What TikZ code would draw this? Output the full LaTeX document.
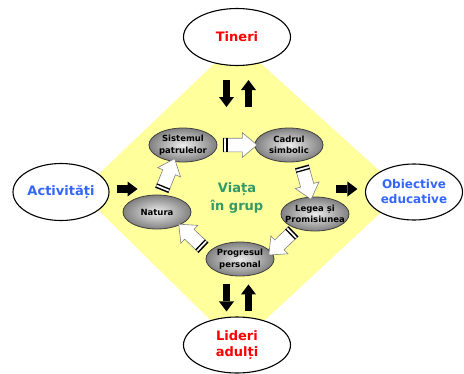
\documentclass[tikz,border=0pt]{standalone}
\usepackage{fontspec}
\setmainfont{DejaVu Sans}
\usepackage{tikz}
\usetikzlibrary{shapes.geometric,shapes.arrows,arrows.meta,calc}
\definecolor{pale}{HTML}{FFFF9C}
\definecolor{lifegreen}{HTML}{339966}
\definecolor{agentblue}{HTML}{3366FF}
\definecolor{stagelight}{HTML}{EDEDED}
\definecolor{stagedark}{HTML}{808080}

\begin{document}
\begin{tikzpicture}[x=1pt, y=-1pt,
  agent/.style={ellipse, draw, line width=1.1pt, fill=white, inner sep=0pt, minimum width=107pt, minimum height=57pt, align=center, font=\bfseries\fontsize{13}{16}\selectfont},
  stage/.style={ellipse, draw=black!75, line width=0.8pt, inner color=stagelight, outer color=stagedark, inner xsep=-7pt, inner ysep=0pt, minimum width=68pt, minimum height=34pt, align=center, font=\bfseries\fontsize{8.5}{11.5}\selectfont},
  hollow/.style={single arrow, draw=black!50, fill=white, line width=0.6pt, sloped, allow upside down, inner xsep=0pt, inner ysep=6.5pt, minimum height=34pt, single arrow head extend=5.5pt, single arrow tip angle=80},
  heavy/.style={line width=7.5pt, -{Triangle[length=10pt, width=15pt, line width=0pt]}}]
  \useasboundingbox (0,0) rectangle (464,373);
  \fill[pale] (237,42) -- (403,192) -- (237,346) -- (80,192) -- cycle;

  \node[agent, text=red] (tin) at (237,37) {Tineri};
  \node[agent, text=red, minimum height=56pt] (lid) at (237,345) {Lideri\\adulți};
  \node[agent, text=agentblue, minimum width=96pt] (act) at (61,192) {Activități};
  \node[agent, text=agentblue, minimum width=97pt, minimum height=56pt, font=\bfseries\fontsize{12}{15}\selectfont] (obj) at (414,192) {Obiective\\educative};

  \node[stage] (sis) at (183,145) {Sistemul\\patrulelor};
  \node[stage] (cad) at (289,145) {Cadrul\\simbolic};
  \node[stage] (leg) at (315,214) {Legea și\\Promisiunea};
  \node[stage] (prog) at (240,259) {Progresul\\personal};
  \node[stage] (nat) at (157,212) {Natura};
  \node[text=lifegreen, align=center, font=\bfseries\fontsize{13}{18}\selectfont] (life) at (237,198) {Viața\\în grup};

  \path (sis.east) -- node[hollow] (h1) {} (cad.west);
  \path (cad.-55) -- node[hollow] (h2) {} (leg.105);
  \path (leg.218) -- node[hollow] (h3) {} (prog.12);
  \path (prog.168) -- node[hollow] (h4) {} (nat.-30);
  \path (nat.80) -- node[hollow] (h5) {} (sis.240);
  \foreach \h in {h1,h2,h3,h4,h5}
    \foreach \d in {0.9pt,4.2pt}
      \draw[line width=1.3pt] ($(\h.before tail)!\d!(\h.after head)$) -- ($(\h.after tail)!\d!(\h.before head)$);

  \draw[heavy] ($(tin.south)+(-10.5,14)$) -- ($(tin.south)+(-10.5,41)$);
  \draw[heavy] ($(tin.south)+(11.5,41)$) -- ($(tin.south)+(11.5,14)$);
  \draw[heavy] ($(lid.north)+(-10.5,-32)$) -- ($(lid.north)+(-10.5,-5)$);
  \draw[heavy] ($(lid.north)+(11.5,-5)$) -- ($(lid.north)+(11.5,-32)$);
  \draw[heavy] ($(act.east)+(7,-3)$) -- ($(act.east)+(28,-3)$);
  \draw[heavy] ($(obj.west)+(-28.5,-3)$) -- ($(obj.west)+(-7.5,-3)$);
\end{tikzpicture}
\end{document}
